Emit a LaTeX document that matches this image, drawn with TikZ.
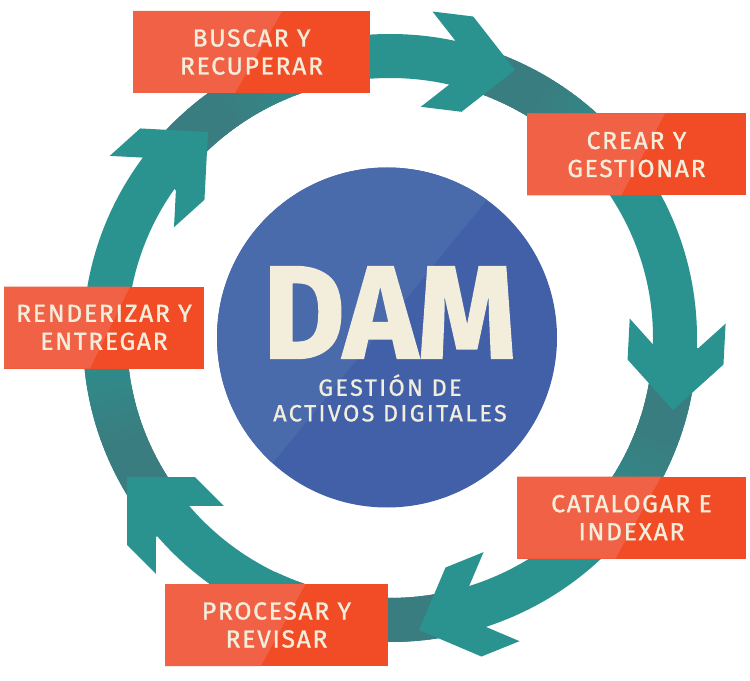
\documentclass[tikz,border=0pt]{standalone}
\usepackage{fontspec}
\setmainfont{Fira Sans}
\newfontfamily\stagefamily{Fira Sans}[FakeBold=1.2, LetterSpace=7]
\newfontfamily\subfamily{Fira Sans}[FakeBold=0.8, LetterSpace=10]
\newfontfamily\damfamily{Fira Sans Bold}[FakeBold=1.5]
\usetikzlibrary{calc,positioning}
\definecolor{ringteal}{RGB}{42,146,143}
\definecolor{ringdark}{RGB}{58,125,128}
\definecolor{boxred}{RGB}{242,76,38}
\definecolor{boxlight}{RGB}{241,97,69}
\definecolor{discblue}{RGB}{66,96,168}
\definecolor{disclight}{RGB}{73,106,171}
\definecolor{cream}{RGB}{243,238,220}
\newcommand\stagefont{\stagefamily\fontsize{18.5}{21}\selectfont}
\newcommand\subfont{\subfamily\fontsize{17.6}{19.2}\selectfont}
\newcommand\damfont{\damfamily\fontsize{99}{99}\selectfont}
\tikzset{
  stage/.style={rectangle, fill=boxred, text=cream, font=\stagefont, align=center,
    inner sep=0pt, minimum height=61.5pt,
    path picture={\fill[boxlight] (path picture bounding box.north west)
      -- ($(path picture bounding box.north west)!0.63!(path picture bounding box.north east)$)
      -- ($(path picture bounding box.south west)!0.43!(path picture bounding box.south east)$)
      -- (path picture bounding box.south west) -- cycle;}},
  ring/.style={line width=33pt},
  headtip/.pic={\fill[ringteal] (0,0) -- (-48,48) -- (-89,48) -- (-63,22)
    -- (-63,-22) -- (-89,-48) -- (-48,-48) -- cycle;}
}
\begin{document}
\begin{tikzpicture}[x=0.75pt,y=0.75pt]
    \fill[white] (0,0) rectangle (750,-681);
    \coordinate (c) at (390,-338);
    \draw[ring, ringteal] (c) ellipse [x radius=285, y radius=282];
    \foreach \t in {65.0,-14.3,-84.3,-152.1,131.5}{
      \foreach \k in {0,...,36}{
        \pgfmathtruncatemacro\mix{\k<12 ? 100 : 100*(36-\k)/24}
        \draw[ring, ringdark!\mix!ringteal] (c) ++(\t+6-\k:285 and 282)
          arc[start angle=\t+6-\k, delta angle=-1.5, x radius=285, y radius=282];
      }
    }
    \pic[rotate=-7]   at (515,-70)  {headtip};
    \pic[rotate=-93]  at (673,-410) {headtip};
    \pic[rotate=-158] at (419,-630) {headtip};
    \pic[rotate=135]  at (127,-477) {headtip};
    \pic[rotate=42]   at (208,-132) {headtip};

    \fill[discblue] (387,-337.5) circle[radius=170];
    \begin{scope}
      \clip (387,-337.5) circle[radius=170];
      \fill[disclight] (568,-100) -- (259,-480) -- (150,-480) -- (150,-100) -- cycle;
    \end{scope}
    \node[font=\damfont, text=cream, inner sep=0pt] (dam) at (389.5,-312.5) {\scalebox{0.95}[1]{DAM}};
    \node[font=\subfont, text=cream, align=center, inner sep=0pt] (sub) at (390,-398)
      {GESTIÓN DE\\ACTIVOS DIGITALES};

    \node[stage, minimum width=177.75pt] (buscar)     at (251.5,-52)   {BUSCAR Y\\RECUPERAR};
    \node[stage, minimum width=164.25pt] (crear)      at (636.5,-154.5) {CREAR Y\\GESTIONAR};
    \node[stage, minimum width=171.75pt] (catalogar)  at (631.5,-517.5) {CATALOGAR E\\INDEXAR};
    \node[stage, minimum width=167.25pt] (procesar)   at (276.5,-625)  {PROCESAR Y\\REVISAR};
    \node[stage, minimum width=150pt]    (renderizar) at (104,-327.5)  {RENDERIZAR Y\\ENTREGAR};
\end{tikzpicture}
\end{document}
